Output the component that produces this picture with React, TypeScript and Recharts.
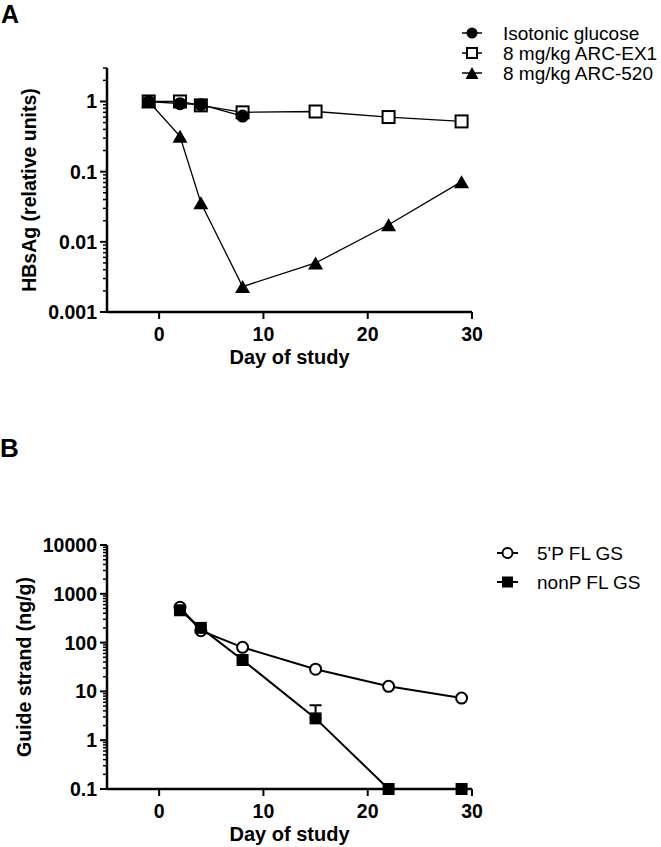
import React from 'react';
import { LineChart, Line, XAxis, YAxis, Legend, Label, ErrorBar } from 'recharts';

const FONT = '"Liberation Sans", Arial, Helvetica, sans-serif';

// ---------- Panel A data ----------
const seriesNamesA = ['Isotonic glucose', '8 mg/kg ARC-EX1', '8 mg/kg ARC-520'];
const daysGlucose = [-1, 2, 4, 8];
const glucoseValues = [1.0, 0.93, 0.9, 0.62];
const daysEX1 = [-1, 2, 4, 8, 15, 22, 29];
const ex1Values = [1.0, 1.0, 0.88, 0.7, 0.72, 0.6, 0.52];
const daysARC520 = [-1, 2, 4, 8, 15, 22, 29];
const arc520Values = [1.0, 0.32, 0.036, 0.0023, 0.005, 0.0175, 0.072];

const xTicks = [0, 10, 20, 30];
const xTickLabels = ['0', '10', '20', '30'];
const yMajorA = [0.001, 0.01, 0.1, 1];
const yMajorLabelsA = ['0.001', '0.01', '0.1', '1'];
const yMinorA = [
  0.002, 0.003, 0.004, 0.005, 0.006, 0.007, 0.008, 0.009,
  0.02, 0.03, 0.04, 0.05, 0.06, 0.07, 0.08, 0.09,
  0.2, 0.3, 0.4, 0.5, 0.6, 0.7, 0.8, 0.9,
  2, 3,
];

// ---------- Panel B data ----------
const seriesNamesB = ["5'P FL GS", 'nonP FL GS'];
const daysB = [2, 4, 8, 15, 22, 29];
const pValues = [530, 175, 80, 28.5, 12.7, 7.3];
const nonPValues = [460, 200, 44, 2.8, 0.1, 0.1];
const nonPErrUp = [null, null, null, 2.4, null, null];
const yMajorB = [0.1, 1, 10, 100, 1000, 10000];
const yMajorLabelsB = ['0.1', '1', '10', '100', '1000', '10000'];
const yMinorB = [
  0.2, 0.3, 0.4, 0.5, 0.6, 0.7, 0.8, 0.9,
  2, 3, 4, 5, 6, 7, 8, 9,
  20, 30, 40, 50, 60, 70, 80, 90,
  200, 300, 400, 500, 600, 700, 800, 900,
  2000, 3000, 4000, 5000, 6000, 7000, 8000, 9000,
];

const glucoseData = daysGlucose.map((x, i) => ({ x, y: glucoseValues[i] }));
const ex1Data = daysEX1.map((x, i) => ({ x, y: ex1Values[i] }));
const arc520Data = daysARC520.map((x, i) => ({ x, y: arc520Values[i] }));
const pData = daysB.map((x, i) => ({ x, y: pValues[i] }));
const nonPData = daysB.map((x, i) => ({
  x,
  y: nonPValues[i],
  err: nonPErrUp[i] == null ? null : [0, nonPErrUp[i]],
}));

// ---------- marker shapes ----------
const filledCircle = (cx: number, cy: number, r: number, key?: any) => (
  <circle key={key} cx={cx} cy={cy} r={r} fill="#000" />
);
const openCircle = (cx: number, cy: number, r: number, key?: any) => (
  <circle key={key} cx={cx} cy={cy} r={r} fill="#fff" stroke="#000" strokeWidth={2} />
);
const openSquare = (cx: number, cy: number, s: number, key?: any) => (
  <rect key={key} x={cx - s / 2} y={cy - s / 2} width={s} height={s} fill="#fff" stroke="#000" strokeWidth={2} />
);
const filledSquare = (cx: number, cy: number, s: number, key?: any) => (
  <rect key={key} x={cx - s / 2} y={cy - s / 2} width={s} height={s} fill="#000" />
);
const filledTriangle = (cx: number, cy: number, w: number, h: number, key?: any) => (
  <polygon
    key={key}
    points={`${cx},${cy - h / 2} ${cx + w / 2},${cy + h / 2} ${cx - w / 2},${cy + h / 2}`}
    fill="#000"
  />
);

const dotWrap = (fn: (cx: number, cy: number, key: any) => any) => (props: any) => {
  const { cx, cy, index } = props;
  if (cx == null || cy == null) return <g key={`n${index}`} />;
  return fn(cx, cy, `d${index}`);
};

// ---------- ticks ----------
const makeYTick = (majors: number[], labels: string[]) => (props: any) => {
  const { x, y, payload } = props;
  const idx = majors.indexOf(payload.value);
  const major = idx >= 0;
  return (
    <g>
      <line x1={x - (major ? 7 : 4)} x2={x} y1={y} y2={y} stroke="#000" strokeWidth={major ? 2 : 1.5} />
      {major && (
        <text x={x - 10} y={y + 7} textAnchor="end" fontFamily={FONT} fontSize={19.5} fontWeight="bold" fill="#000">
          {labels[idx]}
        </text>
      )}
    </g>
  );
};

const XTick = (props: any) => {
  const { x, y, payload } = props;
  const idx = xTicks.indexOf(payload.value);
  return (
    <g>
      <line x1={x} x2={x} y1={y} y2={y + 7} stroke="#000" strokeWidth={2} />
      <text x={x} y={y + 29} textAnchor="middle" fontFamily={FONT} fontSize={19.5} fontWeight="bold" fill="#000">
        {idx >= 0 ? xTickLabels[idx] : payload.value}
      </text>
    </g>
  );
};

const xTitle = (props: any) => {
  const vb = props.viewBox || {};
  return (
    <text x={vb.x + vb.width / 2} y={vb.y + 52} textAnchor="middle" fontFamily={FONT} fontSize={20} fontWeight="bold" fill="#000">
      Day of study
    </text>
  );
};

const yTitle = (text: string, bx: number) => (props: any) => {
  const vb = props.viewBox || {};
  const cy = vb.y + vb.height / 2;
  return (
    <text
      transform={`translate(${bx},${cy}) rotate(-90)`}
      x={0}
      y={0}
      textAnchor="middle"
      fontFamily={FONT}
      fontSize={19.5}
      fontWeight="bold"
      fill="#000"
    >
      {text}
    </text>
  );
};

// ---------- legends ----------
const LegendA = () => {
  const markers = [
    (cx: number, cy: number) => filledCircle(cx, cy, 5.5),
    (cx: number, cy: number) => openSquare(cx, cy, 10),
    (cx: number, cy: number) => filledTriangle(cx, cy, 13, 12),
  ];
  return (
    <svg width={206} height={64} style={{ display: 'block', overflow: 'visible' }}>
      {seriesNamesA.map((name, i) => {
        const cy = 13 + i * 20;
        return (
          <g key={name}>
            <line x1={7} x2={27} y1={cy} y2={cy} stroke="#000" strokeWidth={1.5} />
            {markers[i](17, cy)}
            <text x={48} y={cy + 7} fontFamily={FONT} fontSize={19} fill="#000">
              {name}
            </text>
          </g>
        );
      })}
    </svg>
  );
};

const LegendB = () => {
  const markers = [
    (cx: number, cy: number) => openCircle(cx, cy, 5),
    (cx: number, cy: number) => filledSquare(cx, cy, 11),
  ];
  return (
    <svg width={171} height={56} style={{ display: 'block', overflow: 'visible' }}>
      {seriesNamesB.map((name, i) => {
        const cy = 13 + i * 29;
        return (
          <g key={name}>
            <line x1={7} x2={28} y1={cy} y2={cy} stroke="#000" strokeWidth={2} />
            {markers[i](17.5, cy)}
            <text x={47} y={cy + 7} fontFamily={FONT} fontSize={19} fill="#000">
              {name}
            </text>
          </g>
        );
      })}
    </svg>
  );
};

const axisLineStyle = { stroke: '#000', strokeWidth: 2.5 };

export default function App() {
  const ticksA = [...yMajorA, ...yMinorA].sort((a, b) => a - b);
  const ticksB = [...yMajorB, ...yMinorB].sort((a, b) => a - b);
  return (
    <div style={{ position: 'absolute', left: 0, top: 0, width: 661, height: 847, background: '#fff', fontFamily: FONT }}>
      <svg width={661} height={847} style={{ position: 'absolute', left: 0, top: 0 }}>
        <text x={1} y={23} fontFamily={FONT} fontSize={25} fontWeight="bold" fill="#000">A</text>
        <text x={0} y={457} fontFamily={FONT} fontSize={26} fontWeight="bold" fill="#000">B</text>
      </svg>

      <div style={{ position: 'absolute', left: 0, top: 0 }}>
        <LineChart width={661} height={380} margin={{ top: 68, right: 189, bottom: 18, left: 0 }}>
          <XAxis
            type="number"
            dataKey="x"
            domain={[-5, 30]}
            ticks={xTicks}
            interval={0}
            height={50}
            tickSize={0}
            tickMargin={0}
            tickLine={false}
            axisLine={axisLineStyle}
            tick={XTick}
          >
            <Label content={xTitle} />
          </XAxis>
          <YAxis
            type="number"
            scale="log"
            domain={[0.001, 3]}
            ticks={ticksA}
            interval={0}
            width={107}
            tickSize={0}
            tickMargin={0}
            tickLine={false}
            axisLine={axisLineStyle}
            tick={makeYTick(yMajorA, yMajorLabelsA)}
          >
            <Label content={yTitle('HBsAg (relative units)', 36)} />
          </YAxis>
          <Legend
            layout="vertical"
            align="center"
            verticalAlign="middle"
            content={LegendA}
            wrapperStyle={{ left: 455, top: 20, width: 206, height: 64 }}
          />
          <Line
            name={seriesNamesA[1]}
            data={ex1Data}
            dataKey="y"
            type="linear"
            stroke="#000"
            strokeWidth={1.3}
            dot={dotWrap((cx, cy, k) => openSquare(cx, cy, 12, k))}
            activeDot={false}
            isAnimationActive={false}
          />
          <Line
            name={seriesNamesA[0]}
            data={glucoseData}
            dataKey="y"
            type="linear"
            stroke="#000"
            strokeWidth={1.3}
            dot={dotWrap((cx, cy, k) => filledCircle(cx, cy, 6.5, k))}
            activeDot={false}
            isAnimationActive={false}
          />
          <Line
            name={seriesNamesA[2]}
            data={arc520Data}
            dataKey="y"
            type="linear"
            stroke="#000"
            strokeWidth={1.3}
            dot={dotWrap((cx, cy, k) => filledTriangle(cx, cy, 15, 13, k))}
            activeDot={false}
            isAnimationActive={false}
          />
        </LineChart>
      </div>

      <div style={{ position: 'absolute', left: 0, top: 380 }}>
        <LineChart width={661} height={467} margin={{ top: 165, right: 189, bottom: 8, left: 0 }}>
          <XAxis
            type="number"
            dataKey="x"
            domain={[-5, 30]}
            ticks={xTicks}
            interval={0}
            height={50}
            tickSize={0}
            tickMargin={0}
            tickLine={false}
            axisLine={axisLineStyle}
            tick={XTick}
          >
            <Label content={xTitle} />
          </XAxis>
          <YAxis
            type="number"
            scale="log"
            domain={[0.1, 10000]}
            ticks={ticksB}
            interval={0}
            width={107}
            tickSize={0}
            tickMargin={0}
            tickLine={false}
            axisLine={axisLineStyle}
            tick={makeYTick(yMajorB, yMajorLabelsB)}
          >
            <Label content={yTitle('Guide strand (ng/g)', 31)} />
          </YAxis>
          <Legend
            layout="vertical"
            align="center"
            verticalAlign="middle"
            content={LegendB}
            wrapperStyle={{ left: 490, top: 160, width: 171, height: 56 }}
          />
          <Line
            name={seriesNamesB[0]}
            data={pData}
            dataKey="y"
            type="linear"
            stroke="#000"
            strokeWidth={2}
            dot={dotWrap((cx, cy, k) => openCircle(cx, cy, 5.5, k))}
            activeDot={false}
            isAnimationActive={false}
          />
          <Line
            name={seriesNamesB[1]}
            data={nonPData}
            dataKey="y"
            type="linear"
            stroke="#000"
            strokeWidth={2}
            dot={dotWrap((cx, cy, k) => filledSquare(cx, cy, 12, k))}
            activeDot={false}
            isAnimationActive={false}
          >
            <ErrorBar dataKey="err" direction="y" width={6} stroke="#000" strokeWidth={2} isAnimationActive={false} />
          </Line>
        </LineChart>
      </div>
    </div>
  );
}
